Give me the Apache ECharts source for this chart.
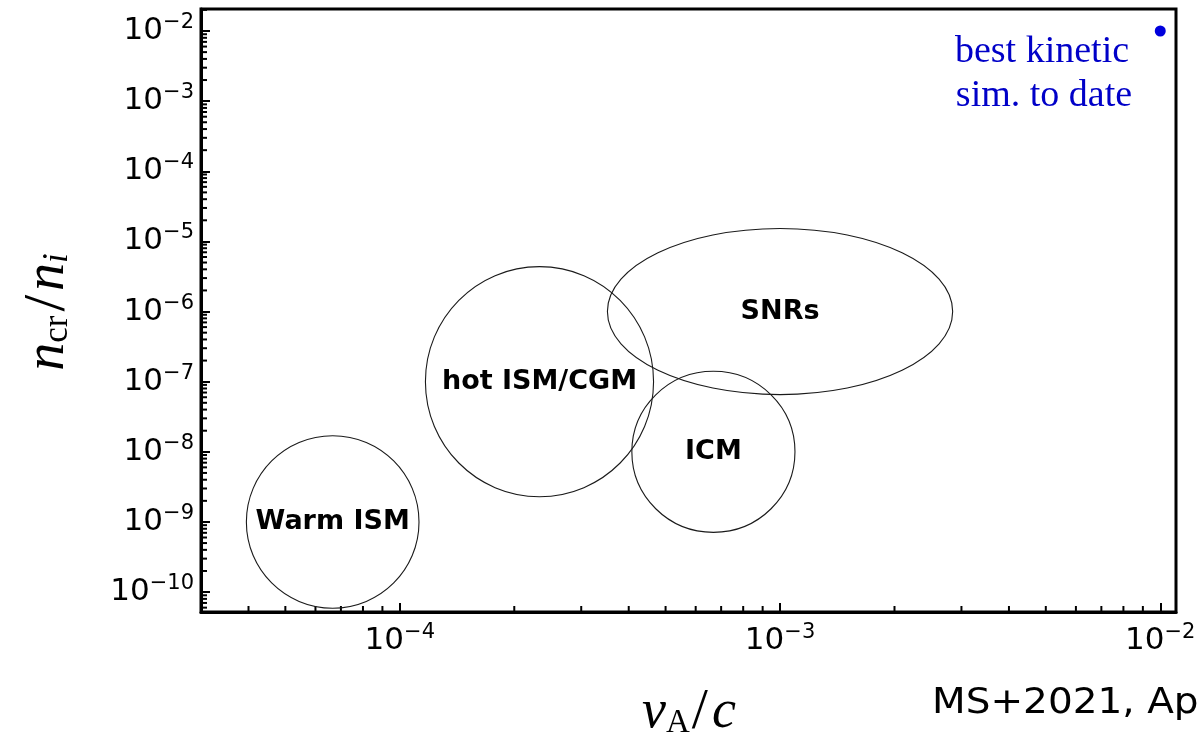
<!DOCTYPE html>
<html><head><meta charset="utf-8">
<script src="https://cdn.jsdelivr.net/npm/echarts@6/dist/echarts.min.js"></script>
<style>html,body{margin:0;padding:0;background:#fff}#c{width:1200px;height:744px}</style>
</head><body><div id="c"></div>
<script>
// ---- data ----
const xRange = [3.0e-5, 1.1e-2];
const yRange = [5.2e-11, 2.06e-2];
const regionNames = ['Warm ISM', 'hot ISM/CGM', 'ICM', 'SNRs'];
const regionCenterX = [6.66e-5, 2.33e-4, 6.68e-4, 1.0e-3];
const regionCenterY = [1.0e-9, 1.0e-7, 1.0e-8, 1.0e-6];
const regionHalfWidthDex = [0.227, 0.300, 0.2145, 0.454];
const regionHalfHeightDex = [1.23, 1.64, 1.148, 1.184];
const simPoint = [1.0e-2, 1.0e-2];
const simLabel = ['best kinetic', 'sim. to date'];
const xMinorDecades = [-5, -4, -3, -2];
const yMinorDecades = [-11, -10, -9, -8, -7, -6, -5, -4, -3, -2];
const minorMultipliers = [2, 3, 4, 5, 6, 7, 8, 9];

// ---- minor tick positions ----
function minorTicks(decades, range) {
  const out = [];
  decades.forEach(d => minorMultipliers.forEach(k => {
    const v = k * Math.pow(10, d);
    if (v > range[0] && v < range[1]) out.push(v);
  }));
  return out;
}
const xMinor = minorTicks(xMinorDecades, xRange);
const yMinor = minorTicks(yMinorDecades, yRange);

const regionData = regionNames.map((n, i) => [regionCenterX[i], regionCenterY[i], regionHalfWidthDex[i], regionHalfHeightDex[i]]);

function powLabel(v) {
  const e = Math.log10(v);
  const r = Math.round(e);
  if (Math.abs(e - r) > 1e-6) return '';
  return '{b|10}{s|\u2212' + Math.abs(r) + '}';
}
const labelRich = {
  b: { fontSize: 31, fontFamily: 'DejaVu Sans', color: '#000', lineHeight: 38 },
  s: { fontSize: 21, fontFamily: 'DejaVu Sans', color: '#000', lineHeight: 21, verticalAlign: 'top' }
};

const chart = echarts.init(document.getElementById('c'), null, { renderer: 'canvas' });
const option = {
  animation: false,
  backgroundColor: '#fff',
  grid: { left: 201, right: 24, top: 9, bottom: 132, show: true, borderColor: '#000', borderWidth: 3, containLabel: false },
  xAxis: {
    type: 'log', min: xRange[0], max: xRange[1],
    axisLine: { show: true, lineStyle: { color: '#000', width: 3 } },
    axisTick: { show: true, inside: true, length: 9, lineStyle: { color: '#000', width: 2 } },
    splitLine: { show: false },
    axisLabel: { margin: 10, formatter: powLabel, rich: labelRich }
  },
  yAxis: {
    type: 'log', min: yRange[0], max: yRange[1],
    axisLine: { show: true, lineStyle: { color: '#000', width: 3 } },
    axisTick: { show: true, inside: true, length: 9, lineStyle: { color: '#000', width: 2 } },
    splitLine: { show: false },
    axisLabel: { margin: 7, formatter: powLabel, rich: labelRich }
  },
  series: [
    {
      type: 'custom', name: 'xminor', silent: true, clip: false,
      data: xMinor.map(v => [v, yRange[0]]),
      renderItem: function (params, api) {
        const p = api.coord([api.value(0), api.value(1)]);
        return { type: 'line', shape: { x1: p[0], y1: p[1], x2: p[0], y2: p[1] - 6 }, style: { stroke: '#000', lineWidth: 2 } };
      }
    },
    {
      type: 'custom', name: 'yminor', silent: true, clip: false,
      data: yMinor.map(v => [xRange[0], v]),
      renderItem: function (params, api) {
        const p = api.coord([api.value(0), api.value(1)]);
        return { type: 'line', shape: { x1: p[0], y1: p[1], x2: p[0] + 6, y2: p[1] }, style: { stroke: '#000', lineWidth: 2 } };
      }
    },
    {
      type: 'custom', name: 'regions', silent: true, clip: false,
      data: regionData,
      encode: { x: 0, y: 1 },
      renderItem: function (params, api) {
        const cx = api.value(0), cy = api.value(1), hw = api.value(2), hh = api.value(3);
        const c = api.coord([cx, cy]);
        const r = api.coord([cx * Math.pow(10, hw), cy]);
        const t = api.coord([cx, cy * Math.pow(10, hh)]);
        return {
          type: 'group', children: [
            { type: 'ellipse', shape: { cx: c[0], cy: c[1], rx: r[0] - c[0], ry: c[1] - t[1] },
              style: { fill: 'none', stroke: '#1a1a1a', lineWidth: 1.1 } },
            { type: 'text', x: c[0], y: c[1],
              style: { text: regionNames[params.dataIndex], align: 'center', verticalAlign: 'middle',
                fontSize: 27, fontWeight: 'bold', fontFamily: 'DejaVu Sans', fill: '#000' } }
          ]
        };
      }
    },
    {
      type: 'scatter', name: 'sim', data: [simPoint], symbolSize: 11,
      itemStyle: { color: '#0000dd', opacity: 1 }, silent: true
    }
  ],
  graphic: [
    { type: 'text', x: 1042, y: 52, style: { text: simLabel[0], align: 'center', verticalAlign: 'middle',
      fontSize: 38, fontFamily: 'Liberation Serif', fill: '#0000c8' } },
    { type: 'text', x: 1044, y: 96, style: { text: simLabel[1], align: 'center', verticalAlign: 'middle',
      fontSize: 38, fontFamily: 'Liberation Serif', fill: '#0000c8' } },
    { type: 'text', x: 689, y: 713, style: {
      text: '{i|v}{sub|A}{r|/}{i|c}', align: 'center', verticalAlign: 'middle',
      rich: {
        i: { fontSize: 54, fontStyle: 'italic', fontFamily: 'Liberation Serif', lineHeight: 54, fill: '#000' },
        r: { fontSize: 58, fontFamily: 'Liberation Serif', lineHeight: 54, padding: [0, 4, 0, 2], fill: '#000' },
        sub: { fontSize: 33, fontFamily: 'Liberation Serif', lineHeight: 33, verticalAlign: 'bottom', padding: [14, 0, 0, 0], fill: '#000' }
      } } },
    { type: 'text', x: 48, y: 312, rotation: Math.PI / 2, style: {
      text: '{i|n}{sub|cr}{r|/}{i|n}{isub|i}', align: 'center', verticalAlign: 'middle',
      rich: {
        i: { fontSize: 56, fontStyle: 'italic', fontFamily: 'Liberation Serif', lineHeight: 54, fill: '#000' },
        r: { fontSize: 60, fontFamily: 'Liberation Serif', lineHeight: 54, padding: [0, 4, 0, 4], fill: '#000' },
        sub: { fontSize: 35, fontFamily: 'Liberation Serif', lineHeight: 35, verticalAlign: 'bottom', padding: [14, 0, 0, 0], fill: '#000' },
        isub: { fontSize: 35, fontStyle: 'italic', fontFamily: 'Liberation Serif', lineHeight: 35, verticalAlign: 'bottom', padding: [14, 0, 0, 0], fill: '#000' }
      } } },
    { type: 'text', x: 932, y: 704, scaleY: 0.9, style: { text: 'MS+2021, Ap', align: 'left', verticalAlign: 'middle',
      fontSize: 39, fontFamily: 'DejaVu Sans', fill: '#000' } }
  ]
};
chart.setOption(option);
</script>
</body></html>
